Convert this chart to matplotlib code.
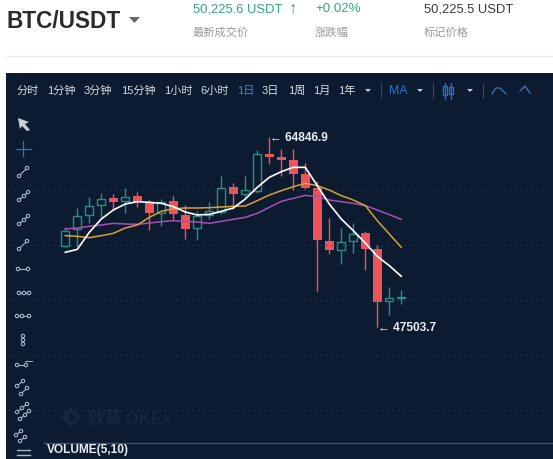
"""BTC/USDT daily candles in a dark exchange terminal layout."""
import matplotlib
matplotlib.use("Agg")
import matplotlib.pyplot as plt
from matplotlib.patches import Rectangle, Circle, Polygon

plt.rcParams["font.family"] = ["Liberation Sans", "Noto Sans CJK SC", "DejaVu Sans"]

W, H = 553, 460

# Candles, in USDT
opens = [54940, 56425, 57697, 58606, 59273, 59030, 59455, 58818, 57879, 58970,
         57758, 56515, 57758, 57970, 60273, 59667, 59939, 63272, 63000, 62727,
         61454, 60182, 55364, 54576, 55334, 56091, 54637, 49880, 50225]
closes = [56303, 57606, 58515, 59212, 58939, 59394, 58909, 57909, 58939, 57849,
          56485, 57636, 58121, 60152, 59667, 59970, 63242, 63000, 62757, 61485,
          60182, 55485, 54546, 55243, 56031, 54667, 49850, 50153, 50230]
highs = [56606, 58364, 59333, 59697, 59636, 60152, 59788, 59091, 59212, 59455,
         58636, 58061, 58879, 61273, 60606, 61273, 63636, 64846.9, 63727, 63727,
         62424, 60848, 57455, 56546, 57000, 56243, 55031, 51152, 50910]
lows = [54849, 54788, 56970, 57515, 58273, 57909, 58485, 56364, 56758, 57364,
        55546, 55455, 57364, 57818, 58242, 59394, 59697, 62364, 61303, 60000,
        60091, 50849, 54182, 53273, 54273, 52728, 47503.7, 48668, 49637]

ma_white = [54334, 54607, 56152, 57364, 58182, 58727, 58939, 58879, 58788, 58485,
            58000, 57727, 57788, 58061, 58364, 59182, 60242, 61151, 61667, 62060,
            62060, 60394, 58727, 57364, 56303, 55182, 53970, 53122, 52152]
ma_gold = [55849, 55788, 55667, 55849, 56061, 56546, 56818, 57515, 58061, 58303,
           58364, 58364, 58394, 58455, 58515, 58546, 59030, 59545, 59939, 60303,
           60606, 60394, 60000, 59485, 59091, 58576, 57212, 56000, 54788]
ma_purple = [56455, 56546, 56697, 56818, 56970, 56909, 56879, 57000, 57121, 57212,
             57152, 57091, 56970, 57152, 57333, 57515, 57879, 58424, 58970, 59242,
             59515, 59394, 59091, 58939, 58788, 58576, 58182, 57758, 57333]

grid_prices = [60000, 55000, 50000, 45000, 40000]
toolbar_labels = ["分时", "1分钟", "3分钟", "15分钟", "1小时", "6小时", "1日", "3日", "1周", "1月", "1年"]
toolbar_x = [17, 47, 84, 121, 164, 200, 237, 262, 288, 313, 338]

PANEL = "#0c1b30"
UP = "#2a8f80"
DOWN = "#ee525a"
BLUE = "#2a72d0"
ICON = "#aab6c6"

fig = plt.figure(figsize=(W / 100, H / 100), dpi=100, facecolor="white")

# page chrome in pixel coordinates
bg = fig.add_axes([0, 0, 1, 1])
bg.set_xlim(0, W)
bg.set_ylim(H, 0)
bg.axis("off")

bg.text(6, 21, "BTC/USDT", fontsize=16.3, fontweight="bold", color="#2b2b2b", va="center")
bg.add_patch(Polygon([[129, 18], [140, 18], [134.5, 24]], color="#666666", lw=0))
bg.text(193, 9, "50,225.6 USDT", fontsize=9.4, color="#35a67f", va="center")
bg.text(289, 9, "↑", fontsize=12, color="#35a67f", va="center", fontweight="bold")
bg.text(315, 9, "+0.02%", fontsize=9.6, color="#35a67f", va="center")
bg.text(424, 9, "50,225.5 USDT", fontsize=9.4, color="#3a3a3a", va="center")
bg.text(193, 32.5, "最新成交价", fontsize=8.1, color="#9a9a9a", va="center")
bg.text(315, 32.5, "涨跌幅", fontsize=8.1, color="#9a9a9a", va="center")
bg.text(424, 32.5, "标记价格", fontsize=8.1, color="#9a9a9a", va="center")
bg.plot([6, W], [57, 57], color="#eeeeee", lw=1)

bg.add_patch(Rectangle((6, 74), W - 6, H - 74, color=PANEL, lw=0))

for label, x in zip(toolbar_labels, toolbar_x):
    color = "#3f87e0" if label == "1日" else "#d5dbe3"
    bg.text(x, 91, label, fontsize=8.0, color=color, va="center")
for x, color in [(368, "#c5ccd6"), (420, "#c5ccd6"), (470, "#c5ccd6")]:
    bg.add_patch(Polygon([[x - 3, 90], [x + 3, 90], [x, 93]], color=color, lw=0))
for x in [381, 433, 483]:
    bg.plot([x, x], [84, 99], color="#3a4a5e", lw=0.8)
bg.text(389, 91, "MA", fontsize=8.8, color=BLUE, va="center")
# candle icon in toolbar
bg.plot([445, 445], [84, 100], color=BLUE, lw=0.9)
bg.add_patch(Rectangle((443, 87), 4, 9, fill=False, ec=BLUE, lw=0.9))
bg.plot([451, 451], [84, 100], color=BLUE, lw=0.9)
bg.add_patch(Rectangle((449, 88), 4, 7, fill=False, ec=BLUE, lw=0.9))
bg.plot([492, 496, 500, 506], [95, 89, 89, 95], color="#3a6fb5", lw=1)
bg.plot([520, 525, 530], [92, 87, 94], color="#3a6fb5", lw=1)

bg.plot([44.5, 44.5], [110, H], color="#122136", lw=0.8)


def link(pts, cx, cy):
    xs = [cx + p[0] for p in pts]
    ys = [cy + p[1] for p in pts]
    bg.plot([xs[0], xs[-1]], [ys[0], ys[-1]], color=ICON, lw=0.8)
    for x, y in zip(xs, ys):
        bg.add_patch(Circle((x, y), 1.7, fc=PANEL, ec=ICON, lw=0.8, zorder=3))


# left tool column
bg.add_patch(Polygon([[18, 119], [29, 123], [25, 125], [30, 131], [27, 132], [22, 127], [20, 130]],
                     color="#c8d0da", lw=0))
bg.plot([16, 31], [150, 150], color=BLUE, lw=0.9)
bg.plot([23, 23], [142, 157], color=BLUE, lw=0.9)
link([(-4, 4), (4, -4)], 23, 173)
link([(-4, 4), (1, 0), (5, -4)], 23, 197)
link([(-4, 4), (1, 0), (5, -4)], 23, 221)
link([(-4, 4), (4, -4)], 23, 246)
link([(-5, 0), (5, 0)], 23, 270)
link([(-4, 0), (1, 0), (6, 0)], 23, 294)
link([(-6, 0), (-1, 0), (6, 0)], 23, 317)
link([(0, -4), (0, 0), (0, 4)], 23, 341)
link([(-6, 1), (3, 1)], 23, 365)
bg.plot([25, 32], [362, 362], color=ICON, lw=0.7)
link([(-5, 2), (1, -3)], 22, 385)
link([(-3, 4), (3, -2)], 24, 391)
link([(-5, 3), (0, -1), (5, -5)], 22, 410)
link([(-3, 6), (2, 2), (6, -2)], 23, 414)
link([(-5, 3), (0, -1)], 21, 433)
link([(-3, 7), (2, 3)], 23, 435)
bg.plot([17, 30], [451, 451], color=ICON, lw=1)
bg.plot([17, 30], [456, 456], color=ICON, lw=1)

# watermark
bg.add_patch(Polygon([[71, 408], [82, 418], [71, 428], [60, 418]], color="#182639", lw=0))
bg.add_patch(Polygon([[71, 414], [75, 418], [71, 422], [67, 418]], color=PANEL, lw=0))
bg.text(88, 418, "欧易 OKEx", fontsize=12, color="#182639", va="center", fontweight="bold")

bg.plot([44, W], [443.5, 443.5], color="#43536a", lw=1)
bg.text(47, 450.5, "VOLUME(5,10)", fontsize=8.6, color="#e8edf3", va="center", fontweight="bold")

# price axes, 12 px per candle and 55 px per 5000 USDT
ax = fig.add_axes([45 / W, (H - 440) / H, (W - 45) / W, 330 / H])
ax.set_xlim((45 - 65.3) / 12, (W - 65.3) / 12)
ax.set_ylim(60000 - (440 - 191) / 0.011, 60000 - (110 - 191) / 0.011)
ax.patch.set_alpha(0)
ax.axis("off")

ax.hlines(grid_prices, ax.get_xlim()[0] - 3, ax.get_xlim()[1], color="#34465c",
          lw=0.8, linestyles=(0, (1, 4)), clip_on=False)

days = list(range(len(opens)))
for i in days:
    o, c, h, l = opens[i], closes[i], highs[i], lows[i]
    if c >= o:
        ax.vlines(i, c, h, color=UP, lw=1)
        ax.vlines(i, l, o, color=UP, lw=1)
        ax.bar(i, c - o, bottom=o, width=0.68, facecolor="none", edgecolor=UP, linewidth=1)
    else:
        ax.vlines(i, l, h, color=DOWN, lw=1)
        ax.bar(i, o - c, bottom=c, width=0.74, color=DOWN, linewidth=0)

ax.plot(days, ma_purple, color="#a84fb5", lw=1.1)
ax.plot(days, ma_gold, color="#d9a02c", lw=1.1)
ax.plot(days, ma_white, color="#ffffff", lw=1.2)

ax.annotate("← 64846.9", (highs.index(max(highs)), max(highs)), xytext=(1, 0),
            textcoords="offset pixels", color="#e8edf3", fontsize=8.6, fontweight="bold", va="center")
ax.annotate("← 47503.7", (lows.index(min(lows)), min(lows)), xytext=(1, 0),
            textcoords="offset pixels", color="#e8edf3", fontsize=8.6, fontweight="bold", va="center")

fig.savefig("out.png", dpi=100)
